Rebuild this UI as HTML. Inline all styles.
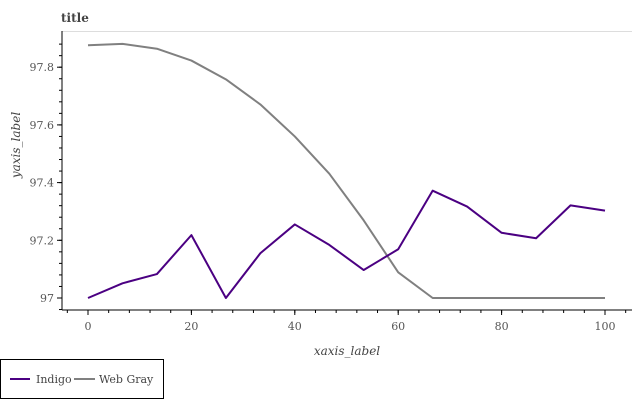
<!DOCTYPE html>
<html><head><meta charset="utf-8"><style>
body{margin:0;background:#fff}
text{font-family:"DejaVu Serif","Liberation Serif",serif}
</style></head><body>
<svg width="638" height="400" xmlns="http://www.w3.org/2000/svg">
<g id="root"></g>
</svg>
<script>
const xTicks=[0,20,40,60,80,100];
const yTicks=[97,97.2,97.4,97.6,97.8];
const seriesX=[0,6.67,13.33,20,26.67,33.33,40,46.67,53.33,60,66.67,73.33,80,86.67,93.33,100];
const indigoY=[97.0,97.051,97.083,97.218,97.0,97.155,97.255,97.184,97.097,97.169,97.372,97.317,97.226,97.207,97.321,97.303];
const grayY=[97.876,97.881,97.864,97.823,97.758,97.671,97.56,97.431,97.269,97.089,97.0,97.0,97.0,97.0,97.0,97.0];
const sx=v=>88+v*5.17;
const sy=v=>298-(v-97)*288.5;
const NS="http://www.w3.org/2000/svg";
const root=document.getElementById('root');
function mk(t,a,txt){const e=document.createElementNS(NS,t);for(const k in a)e.setAttribute(k,a[k]);if(txt!==undefined)e.textContent=txt;root.appendChild(e);return e;}
let e;
e=mk('text',{x:61,y:22,'font-size':12,'font-weight':'bold',fill:'#444'},'title');


mk('line',{x1:62,y1:31.5,x2:632,y2:31.5,stroke:'#ddd'});
e=mk('line',{x1:62,y1:31,x2:62,y2:310,stroke:'#000'});


e=mk('line',{x1:62,y1:310,x2:632,y2:310,stroke:'#000'});


for(let v=96.96;v<=97.92;v+=0.04){const y=sy(v);if(y<31||y>310)continue;mk('line',{x1:59,y1:y,x2:62,y2:y,stroke:'#000'});}
for(let v=-4;v<=104;v+=4){mk('line',{x1:sx(v),y1:310,x2:sx(v),y2:313,stroke:'#000'});}
yTicks.forEach(v=>{
 mk('line',{x1:57,y1:sy(v),x2:62,y2:sy(v),stroke:'#000'});
 e=mk('text',{x:54,y:sy(v)+4,'font-size':11,'text-anchor':'end',fill:'#555'},String(v));
 
 
});
xTicks.forEach(v=>{
 mk('line',{x1:sx(v),y1:310,x2:sx(v),y2:315,stroke:'#000'});
 e=mk('text',{x:sx(v),y:330,'font-size':11,'text-anchor':'middle',fill:'#555'},String(v));
 
 
});
e=mk('text',{x:347,y:355,'font-size':12,'font-style':'italic','text-anchor':'middle',fill:'#444'},'xaxis_label');


e=mk('text',{x:20,y:145,'font-size':12,'font-style':'italic','text-anchor':'middle',fill:'#444',transform:'rotate(-90 20 145)'},'yaxis_label');


e=mk('polyline',{points:seriesX.map((x,i)=>sx(x)+','+sy(grayY[i])).join(' '),fill:'none',stroke:'#808080','stroke-width':2,'stroke-linejoin':'round'});


e=mk('polyline',{points:seriesX.map((x,i)=>sx(x)+','+sy(indigoY[i])).join(' '),fill:'none',stroke:'#4b0082','stroke-width':2,'stroke-linejoin':'round'});


e=mk('rect',{x:0.5,y:359.5,width:163,height:39,fill:'none',stroke:'#000'});


mk('line',{x1:10,y1:379,x2:30,y2:379,stroke:'#4b0082','stroke-width':2});
e=mk('text',{x:36,y:383,'font-size':11,fill:'#444'},'Indigo');


mk('line',{x1:74,y1:379,x2:95,y2:379,stroke:'#808080','stroke-width':2});
e=mk('text',{x:99,y:383,'font-size':11,fill:'#444'},'Web Gray');


</script>
</body></html>
